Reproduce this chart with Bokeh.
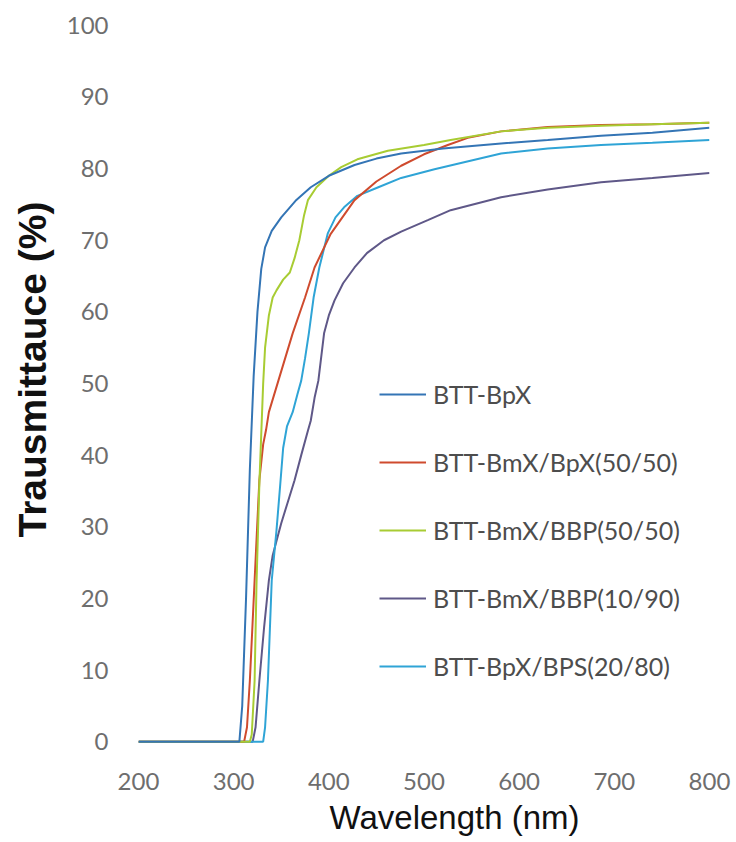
from bokeh.plotting import figure
from bokeh.models import Range1d, FixedTicker, Legend, LegendItem, Title
from bokeh.embed import file_html
from bokeh.resources import INLINE

# ---- data ----
names = ["BTT-BpX", "BTT-BmX/BpX(50/50)", "BTT-BmX/BBP(50/50)",
         "BTT-BmX/BBP(10/90)", "BTT-BpX/BPS(20/80)"]

wl_bpx = [200, 306, 309, 313, 317, 321, 325, 329, 333, 340, 350, 365, 381, 400, 427, 450, 476, 520, 581, 630, 686, 740, 800]
t_bpx = [0, 0, 5, 20, 38, 51, 60, 66, 69, 71.3, 73.2, 75.5, 77.4, 79.0, 80.5, 81.4, 82.1, 82.8, 83.5, 84.0, 84.6, 85.0, 85.7]

wl_bmx_bpx = [200, 311, 314, 317, 322, 327, 331, 334, 337, 347, 362, 375, 385, 402, 427, 450, 476, 500, 525, 546, 581, 630, 686, 740, 800]
t_bmx_bpx = [0, 0, 2, 8.5, 22.5, 36.5, 41.5, 43.5, 46, 50.4, 57, 62, 66.2, 70.9, 75.6, 78.2, 80.4, 82.0, 83.3, 84.3, 85.2, 85.8, 86.1, 86.2, 86.4]

wl_bmx_bbp50 = [200, 317, 319, 322, 324, 327, 331, 333, 337, 341, 345, 352, 359, 364, 369, 374, 378, 387, 400, 413, 430, 462, 500, 528, 581, 630, 686, 740, 800]
t_bmx_bbp50 = [0, 0, 1, 8.5, 22, 36, 50, 55, 59.5, 62, 63, 64.5, 65.5, 67.5, 70, 73.5, 75.6, 77.4, 79.0, 80.2, 81.3, 82.5, 83.3, 84.0, 85.2, 85.7, 86.0, 86.2, 86.4]

wl_bmx_bbp10 = [200, 320, 323, 327, 332, 337, 341, 345, 350, 357, 364, 371, 378, 381, 385, 389, 395, 400, 406, 415, 427, 440, 458, 476, 504, 528, 581, 630, 686, 740, 800]
t_bmx_bbp10 = [0, 0, 2, 8.5, 16, 22.5, 26, 28, 30.5, 33.5, 36.5, 40, 43.4, 44.8, 48, 50.4, 57, 59.5, 61.6, 64, 66.2, 68.2, 70, 71.2, 72.8, 74.2, 76.0, 77.1, 78.1, 78.7, 79.4]

wl_bpx_bps = [200, 331, 333, 336, 340, 345, 349, 352, 356, 362, 367, 371, 375, 379, 384, 390, 399, 407, 416, 430, 452, 476, 511, 581, 630, 686, 740, 800]
t_bpx_bps = [0, 0, 2, 8.5, 22.5, 29.5, 36, 41, 44, 46, 48.5, 50.4, 53.5, 57, 62, 66.2, 71, 73.2, 74.6, 76.2, 77.4, 78.7, 79.9, 82.1, 82.8, 83.3, 83.6, 84.0]

x_ticks = [200, 300, 400, 500, 600, 700, 800]
y_ticks = [0, 10, 20, 30, 40, 50, 60, 70, 80, 90, 100]

colors = ["#3475b5", "#cf4b2e", "#a8cc33", "#5f5888", "#2fa4d6"]

series = [(wl_bpx, t_bpx), (wl_bmx_bpx, t_bmx_bpx), (wl_bmx_bbp50, t_bmx_bbp50),
          (wl_bmx_bbp10, t_bmx_bbp10), (wl_bpx_bps, t_bpx_bps)]

p = figure(width=736, height=842, output_backend="svg", toolbar_location=None,
           x_range=Range1d(200, 800), y_range=Range1d(-0.4, 100.4),
           min_border_left=137, min_border_right=27, min_border_top=22, min_border_bottom=98)
p.outline_line_color = None
p.grid.grid_line_color = None
p.background_fill_color = "white"
p.border_fill_color = "white"

renderers = {}
for idx in [3, 4, 1, 2, 0]:
    wl, t = series[idx]
    renderers[idx] = p.line(wl, t, line_color=colors[idx], line_width=2)

for ax in (p.xaxis[0], p.yaxis[0]):
    ax.axis_line_color = None
    ax.major_tick_line_color = None
    ax.minor_tick_line_color = None
    ax.major_tick_in = 0
    ax.major_tick_out = 0
    ax.minor_tick_out = 0
    ax.major_label_text_font = "Lato"
    ax.major_label_text_font_size = "24px"
    ax.major_label_text_color = "#6e6e6e"

p.xaxis[0].ticker = FixedTicker(ticks=x_ticks)
p.yaxis[0].ticker = FixedTicker(ticks=y_ticks)
p.xaxis[0].major_label_standoff = 28
p.yaxis[0].major_label_standoff = 30

legend = Legend(items=[LegendItem(label=names[i], renderers=[renderers[i]]) for i in range(5)],
                location=(241, 63), orientation="vertical",
                glyph_width=47, glyph_height=30, label_height=30, spacing=38,
                label_standoff=7, padding=0, margin=0,
                border_line_color=None, background_fill_alpha=0,
                label_text_font="Lato", label_text_font_size="25px",
                label_text_color="#4d4d4d")
p.add_layout(legend, "center")

ytitle = Title(text="Trausmittauce (%)", align="left", offset=207, vertical_align="middle",
               text_font="Liberation Sans", text_font_style="bold",
               text_font_size="39px", text_color="#111111", standoff=18)
xtitle = Title(text="Wavelength (nm)", align="left", offset=191, vertical_align="middle",
               text_font="Liberation Sans", text_font_style="normal",
               text_font_size="33px", text_color="#111111", standoff=11)
p.add_layout(ytitle, "left")
p.add_layout(xtitle, "below")

open("out.html", "w").write(file_html(p, INLINE))
